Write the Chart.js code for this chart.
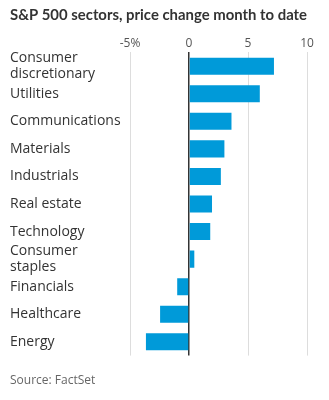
<!DOCTYPE html>
<html>
<head>
<meta charset="utf-8">
<script src="https://cdn.jsdelivr.net/npm/chart.js@4"></script>
<style>
  html, body { margin:0; padding:0; background:#fff; }
  #wrap { position:relative; width:329px; height:400px; }
</style>
</head>
<body>
<div id="wrap"><canvas id="chart"></canvas></div>
<script>
// sectors, month-to-date price change (%)
const sectors = [
  ["Consumer", "discretionary"], "Utilities", "Communications", "Materials", "Industrials",
  "Real estate", "Technology", ["Consumer", "staples"], "Financials", "Healthcare", "Energy"
];
const changes = [7.2, 6.0, 3.6, 3.0, 2.7, 1.95, 1.8, 0.45, -1.0, -2.45, -3.65];
const xTicks = [-5, 0, 5, 10];

const FONT = "'Open Sans', sans-serif";

new Chart(document.getElementById("chart"), {
  type: "bar",
  data: {
    labels: sectors,
    datasets: [{
      data: changes,
      backgroundColor: "#009ad9",
      borderWidth: 0,
      barPercentage: 0.62,
      categoryPercentage: 1
    }]
  },
  options: {
    indexAxis: "y",
    responsive: true,
    maintainAspectRatio: false,
    animation: false,
    layout: { padding: { left: 10, right: 22, top: 6, bottom: 12 } },
    plugins: {
      legend: { display: false },
      tooltip: { enabled: false },
      title: {
        display: true, align: "start",
        text: "S&P 500 sectors, price change month to date",
        color: "#333", font: { family: "Lato", size: 15, weight: "bold" },
        padding: { top: 0, bottom: 10 }
      },
      subtitle: {
        display: true, position: "bottom", align: "start",
        text: "Source: FactSet",
        color: "#666", font: { family: FONT, size: 12 },
        padding: { top: 18, bottom: 0 }
      }
    },
    scales: {
      x: {
        position: "top",
        min: -5, max: 10,
        afterBuildTicks: s => { s.ticks = xTicks.map(v => ({ value: v })); },
        ticks: {
          color: "#555", font: { family: FONT, size: 12 }, padding: 2,
          callback: v => v === -5 ? "-5%" : String(v)
        },
        grid: {
          drawTicks: false,
          color: c => c.tick && c.tick.value === 0 ? "#333" : "#ddd",
          lineWidth: c => c.tick && c.tick.value === 0 ? 1.5 : 1
        },
        border: { display: false }
      },
      y: {
        afterFit: s => { s.width = 120; },
        ticks: {
          autoSkip: false,
          crossAlign: "far", color: "#333",
          font: { family: FONT, size: 14, lineHeight: 1.15 }, padding: 0
        },
        grid: { display: false, drawTicks: false },
        border: { display: false }
      }
    }
  }
});
</script>
</body>
</html>
